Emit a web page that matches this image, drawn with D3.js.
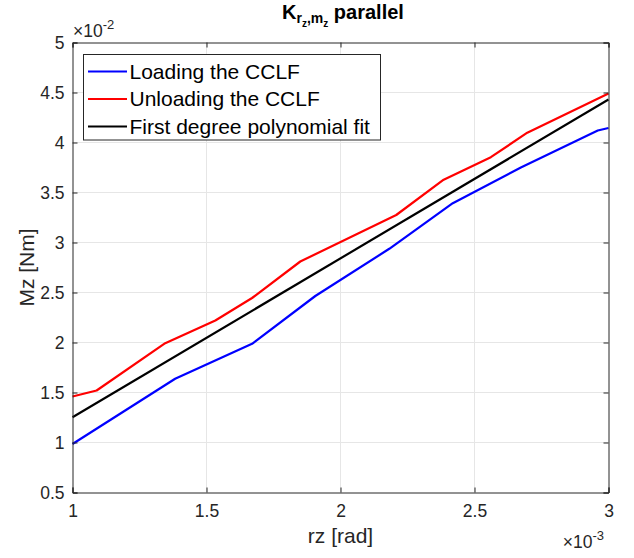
<!DOCTYPE html>
<html>
<head>
<meta charset="utf-8">
<script src="https://cdn.jsdelivr.net/npm/d3@7"></script>
<style>
  body { margin: 0; background: #fff; }
  svg { font-family: "Liberation Sans", Arial, sans-serif; }
</style>
</head>
<body>
<svg id="chart"></svg>
<script>
// Data (x in 1e-3 rad, y in 1e-2 Nm)
const loadX = [1.0, 1.383, 1.67, 1.906, 2.182, 2.419, 2.673, 2.96, 3.0];
const loadY = [0.985, 1.637, 1.987, 2.465, 2.937, 3.393, 3.75, 4.12, 4.145];
const unloadX = [1.0, 1.09, 1.346, 1.533, 1.67, 1.85, 2.208, 2.385, 2.561, 2.697, 3.0];
const unloadY = [1.46, 1.52, 1.993, 2.22, 2.445, 2.81, 3.275, 3.628, 3.853, 4.098, 4.49];
const fitX = [1.0, 3.0];
const fitY = [1.253, 4.43];
const xTicks = [1, 1.5, 2, 2.5, 3];
const yTicks = [0.5, 1, 1.5, 2, 2.5, 3, 3.5, 4, 4.5, 5];
const seriesNames = ['Loading the CCLF', 'Unloading the CCLF', 'First degree polynomial fit'];
const seriesColors = ['#0000ff', '#ff0000', '#000000'];

function drawChart() {
  const width = 634, height = 558;
  const plotLeft = 72.5, plotRight = 608.5, plotTop = 42.5, plotBottom = 492.5;
  const axisColor = '#262626';

  const svg = d3.select('#chart')
    .attr('width', width)
    .attr('height', height);

  const x = d3.scaleLinear().domain([1, 3]).range([plotLeft, plotRight]);
  const y = d3.scaleLinear().domain([0.5, 5]).range([plotBottom, plotTop]);

  // Grid
  svg.append('g').selectAll('line')
    .data(xTicks.slice(1, -1))
    .enter().append('line')
    .attr('x1', d => x(d)).attr('x2', d => x(d))
    .attr('y1', plotTop).attr('y2', plotBottom)
    .attr('stroke', '#e6e6e6').attr('stroke-width', 1);
  svg.append('g').selectAll('line')
    .data(yTicks.slice(1, -1))
    .enter().append('line')
    .attr('y1', d => y(d)).attr('y2', d => y(d))
    .attr('x1', plotLeft).attr('x2', plotRight)
    .attr('stroke', '#e6e6e6').attr('stroke-width', 1);

  // Data lines
  const line = d3.line().x(d => x(d[0])).y(d => y(d[1]));
  const series = [
    d3.zip(loadX, loadY),
    d3.zip(unloadX, unloadY),
    d3.zip(fitX, fitY)
  ];
  svg.append('g').selectAll('path')
    .data(series)
    .enter().append('path')
    .attr('d', line)
    .attr('fill', 'none')
    .attr('stroke', (d, i) => seriesColors[i])
    .attr('stroke-width', 2.2)
    .attr('stroke-linejoin', 'round');

  // Axes (ticks inward, box on)
  const bottomAxis = svg.append('g')
    .attr('transform', `translate(0,${plotBottom})`)
    .call(d3.axisBottom(x).tickValues(xTicks).tickSize(-5).tickPadding(12).tickFormat(d3.format('')));
  const leftAxis = svg.append('g')
    .attr('transform', `translate(${plotLeft},0)`)
    .call(d3.axisLeft(y).tickValues(yTicks).tickSize(-5).tickPadding(8).tickFormat(d3.format('')));
  const topAxis = svg.append('g')
    .attr('transform', `translate(0,${plotTop})`)
    .call(d3.axisTop(x).tickValues(xTicks).tickSize(-5).tickFormat(''));
  const rightAxis = svg.append('g')
    .attr('transform', `translate(${plotRight},0)`)
    .call(d3.axisRight(y).tickValues(yTicks).tickSize(-5).tickFormat(''));

  [bottomAxis, leftAxis, topAxis, rightAxis].forEach(a => {
    a.select('.domain').attr('stroke', axisColor).attr('stroke-width', 1);
    a.selectAll('.tick line').attr('stroke', axisColor);
    a.selectAll('.tick text')
      .attr('fill', axisColor)
      .style('font-size', '17.5px')
      .style('font-family', '"Liberation Sans", Arial, sans-serif');
  });

  // Exponent labels
  const yExp = svg.append('text')
    .attr('x', 73).attr('y', 37)
    .attr('fill', axisColor)
    .style('font-size', '17.5px');
  yExp.append('tspan').text('\u00d710');
  yExp.append('tspan').attr('dy', -8).style('font-size', '13px').text('-2');

  const xExp = svg.append('text')
    .attr('x', 604).attr('y', 548)
    .attr('text-anchor', 'end')
    .attr('fill', axisColor)
    .style('font-size', '17.5px');
  xExp.append('tspan').text('\u00d710');
  xExp.append('tspan').attr('dy', -8).style('font-size', '13px').text('-3');

  // Axis labels
  svg.append('text')
    .attr('x', (plotLeft + plotRight) / 2).attr('y', 543)
    .attr('text-anchor', 'middle')
    .attr('fill', axisColor)
    .style('font-size', '21px')
    .text('rz [rad]');
  svg.append('text')
    .attr('transform', `translate(34,${(plotTop + plotBottom) / 2}) rotate(-90)`)
    .attr('text-anchor', 'middle')
    .attr('fill', axisColor)
    .style('font-size', '21px')
    .text('Mz [Nm]');

  // Title with nested subscripts
  const title = svg.append('text')
    .attr('x', 343).attr('y', 19)
    .attr('text-anchor', 'middle')
    .attr('fill', '#000')
    .style('font-size', '20px')
    .style('font-weight', 'bold');
  title.append('tspan').text('K');
  title.append('tspan').attr('dy', 4).style('font-size', '14px').text('r');
  title.append('tspan').attr('dy', 4).style('font-size', '10px').text('z');
  title.append('tspan').attr('dy', -4).style('font-size', '14px').text(',m');
  title.append('tspan').attr('dy', 4).style('font-size', '10px').text('z');
  title.append('tspan').attr('dy', -8).style('font-size', '20px').text(' parallel');

  // Legend
  const legend = svg.append('g');
  legend.append('rect')
    .attr('x', 83.5).attr('y', 54.5)
    .attr('width', 297).attr('height', 85.5)
    .attr('fill', '#fff')
    .attr('stroke', axisColor).attr('stroke-width', 1);
  const rows = legend.selectAll('g.row')
    .data(seriesNames)
    .enter().append('g').attr('class', 'row')
    .attr('transform', (d, i) => `translate(0,${71.5 + i * 27.5})`);
  rows.append('line')
    .attr('x1', 88).attr('x2', 127)
    .attr('stroke', (d, i) => seriesColors[i])
    .attr('stroke-width', 2.2);
  rows.append('text')
    .attr('x', 129.5).attr('y', 0)
    .attr('dy', '0.35em')
    .attr('fill', '#000')
    .style('font-size', '21px')
    .text(d => d);
}

drawChart();
</script>
</body>
</html>
